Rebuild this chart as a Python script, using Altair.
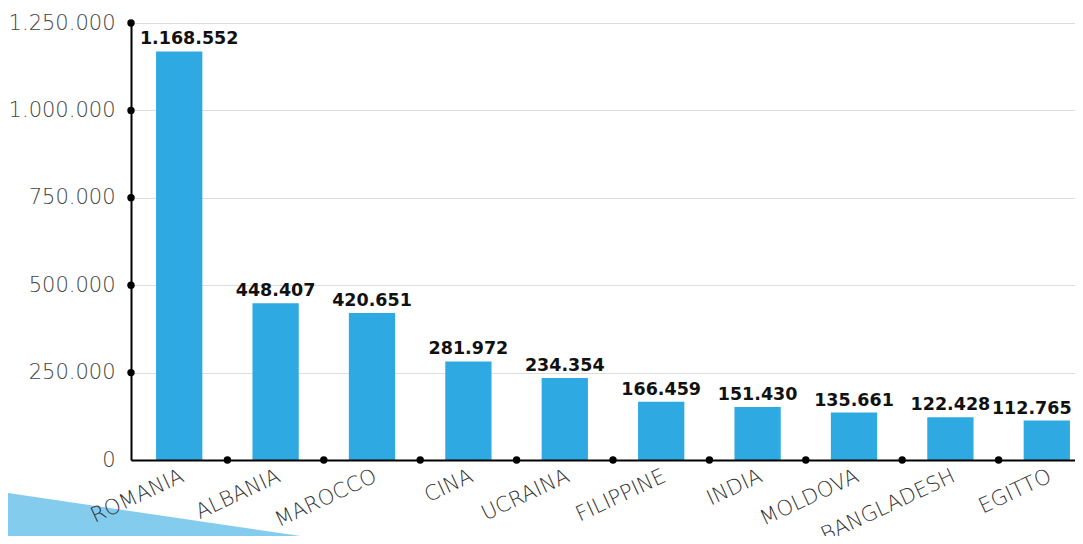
import altair as alt
import pandas as pd

countries = ["ROMANIA", "ALBANIA", "MAROCCO", "CINA", "UCRAINA",
             "FILIPPINE", "INDIA", "MOLDOVA", "BANGLADESH", "EGITTO"]
values = [1168552, 448407, 420651, 281972, 234354,
          166459, 151430, 135661, 122428, 112765]
y_ticks = [0, 250000, 500000, 750000, 1000000, 1250000]
y_dots = [250000, 500000, 750000, 1000000, 1250000]

df = pd.DataFrame({"country": countries, "value": values})
df_ydots = pd.DataFrame({"v": y_dots})
df_xdots = pd.DataFrame({"country": countries[1:]})
df_deco = pd.DataFrame({"k": [0]})

W, H = 944, 437
STEP_RANGE = 964
STEP = STEP_RANGE / 10
HALF_BAND = STEP * (1 - 0.52) / 2

xscale = alt.Scale(domain=countries, range=[0, STEP_RANGE], paddingInner=0.52, paddingOuter=0.26)
yscale = alt.Scale(domain=[0, 1250000], nice=False)

fmt = "join(split(format(datum.value, ','), ','), '.')"

deco = alt.Chart(df_deco).mark_point(
    shape="M -151 29 L 269 90.6 L -151 90.6 Z", size=4, filled=True,
    color="#84CCEE", opacity=1, strokeWidth=0
).encode(x=alt.value(0), y=alt.value(H))

bars = alt.Chart(df).mark_bar(color="#2EA9E1").encode(
    x=alt.X("country:N", scale=xscale, sort=countries, title=None,
            axis=alt.Axis(domainColor="black", domainWidth=2, ticks=False,
                          labelAngle=335, labelAlign="right", labelBaseline="top",
                          labelPadding=5, labelOffset=-1,
                          labelFont="DejaVu Sans", labelFontWeight=200, labelFontSize=21,
                          labelColor="#333", zindex=1)),
    y=alt.Y("value:Q", scale=yscale, title=None,
            axis=alt.Axis(values=y_ticks, grid=True, gridColor="#dddddd", gridWidth=1,
                          domainColor="black", domainWidth=2, ticks=False,
                          labelPadding=16, labelExpr=fmt,
                          labelFont="DejaVu Sans", labelFontWeight=200, labelFontSize=21,
                          labelColor="#444"))
)

text = alt.Chart(df).transform_calculate(
    label="join(split(format(datum.value, ','), ','), '.')",
    off=f"{HALF_BAND} + (datum.country == 'ROMANIA' ? 10 : (datum.country == 'EGITTO' ? -15 : 0))"
).mark_text(font="DejaVu Sans", fontWeight="bold", fontSize=17.5, color="#111",
            baseline="alphabetic", dy=-7).encode(
    x=alt.X("country:N", scale=xscale, sort=countries),
    xOffset=alt.XOffset("off:Q", scale=None),
    y=alt.Y("value:Q", scale=yscale),
    text="label:N"
)

ydots = alt.Chart(df_ydots).mark_circle(color="black", size=55, opacity=1).encode(
    x=alt.value(0), y=alt.Y("v:Q", scale=yscale)
)

xdots = alt.Chart(df_xdots).mark_circle(color="black", size=55, opacity=1,
                                         xOffset=-STEP / 2).encode(
    x=alt.X("country:N", scale=xscale, sort=countries), y=alt.value(H)
)

chart = alt.layer(deco, bars, text, ydots, xdots).properties(
    width=W, height=H,
    autosize=alt.AutoSizeParams(type="none"),
    padding={"left": 123, "top": 15, "right": 0, "bottom": 76},
    background="white"
).configure_view(stroke=None)

chart.save("out.html", embed_options={"renderer": "svg", "actions": False})
